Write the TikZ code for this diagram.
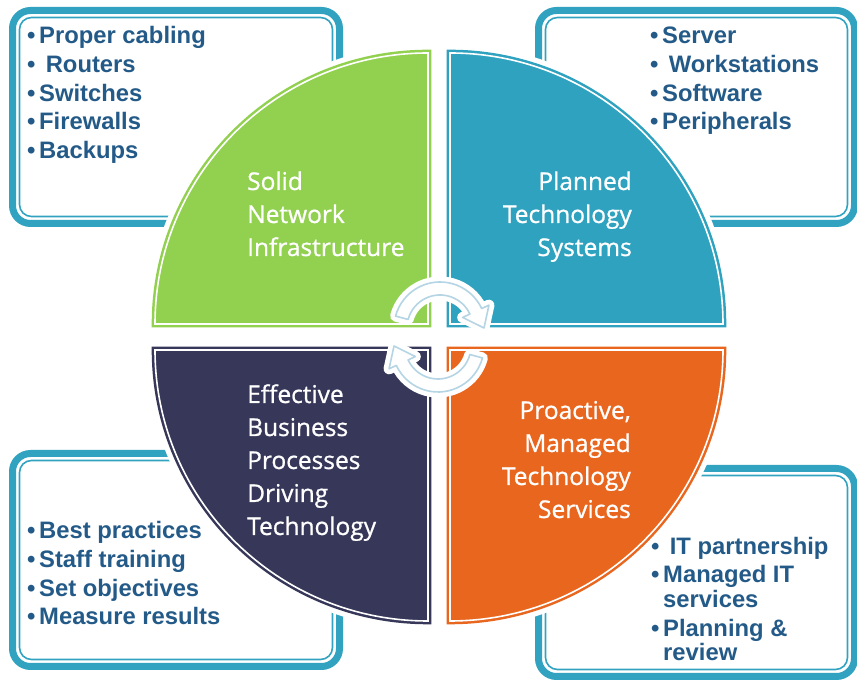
\documentclass[tikz,border=0pt]{standalone}
\usepackage{fontspec}
\setmainfont{Liberation Sans}
\newfontfamily\quadfont[FakeBold=0.9]{Open Sans}

\definecolor{netgreen}{HTML}{92D050}
\definecolor{sysblue}{HTML}{2EA2BF}
\definecolor{biznavy}{HTML}{363759}
\definecolor{svcorange}{HTML}{E9661F}
\definecolor{frameteal}{HTML}{31A3C1}
\definecolor{listblue}{HTML}{235A88}
\definecolor{cyclelight}{HTML}{B5D5E5}

\newcommand{\itm}{\makebox[12pt][l]{•}}

\begin{document}
\begin{tikzpicture}[x=1pt,y=1pt]
  \tikzset{
    frameouter/.style={draw=frameteal, line width=7pt, rounded corners=18pt},
    frameinner/.style={draw=frameteal, line width=1.6pt, rounded corners=12pt},
    listitem/.style={inner sep=0pt, anchor=base west, text=listblue,
                     font=\fontsize{23.8}{28}\selectfont\bfseries},
    quadhalo/.style={draw=white, line width=17pt},
    quadrant/.style={fill=#1, draw=#1, line width=2.5pt, double=white, double distance=1.6pt},
    quadlabel/.style={inner sep=0pt, text=white, font=\quadfont\fontsize{24.5}{33}\selectfont},
    cyclearrow/.style={fill=white, draw=cyclelight, line width=1.6pt, line join=round,
                       preaction={draw=white, line width=11pt, line join=round}}
  }
  \useasboundingbox (0,0) rectangle (857,682);

  % list frames
  \foreach \xa/\ya/\xb/\yb in {9/675/343/455, 535/675/858/455, 9/232/343/12, 535/217/858/2} {
    \draw[frameouter] (\xa+3.5,\ya-3.5) rectangle (\xb-3.5,\yb+3.5);
    \draw[frameinner] (\xa+10.5,\ya-10.5) rectangle (\xb-10.5,\yb+10.5);
  }

  % list items
  \foreach \txt [count=\i from 0] in {Proper cabling, \ Routers, Switches, Firewalls, Backups}
    \node[listitem] (net-\i) at (27,638-28.6*\i) {\itm\txt};
  \foreach \txt [count=\i from 0] in {Server, \ Workstations, Software, Peripherals}
    \node[listitem] (sys-\i) at (650,638-28.6*\i) {\itm\txt};
  \foreach \txt [count=\i from 0] in {Best practices, Staff training, Set objectives, Measure results}
    \node[listitem] (biz-\i) at (27,143-28.6*\i) {\itm\txt};
  \foreach \txt/\y [count=\i from 0] in {{\itm\ IT partnership}/127, {\itm Managed IT}/99,
      {\hspace*{12pt}services}/74, {\itm Planning \&}/45, {\hspace*{12pt}review}/21}
    \node[listitem] (svc-\i) at (651,\y) {\txt};

  % quadrants
  \foreach \cx/\cy/\sa/\ea/\col in {428/358/180/90/netgreen, 450/358/90/0/sysblue,
      428/332/270/180/biznavy, 450/332/360/270/svcorange} {
    \path[quadhalo] (\cx,\cy) -- ++(\sa:273 and 271)
      arc[start angle=\sa, end angle=\ea, x radius=273, y radius=271] -- cycle;
    \path[quadrant=\col] (\cx,\cy) -- ++(\sa:273 and 271)
      arc[start angle=\sa, end angle=\ea, x radius=273, y radius=271] -- cycle;
  }

  % quadrant labels
  \foreach \txt [count=\i from 0] in {Solid, Network, Infrastructure}
    \node[quadlabel, anchor=base west] (netlbl-\i) at (247,492-33*\i) {\txt};
  \foreach \txt [count=\i from 0] in {Planned, Technology, Systems}
    \node[quadlabel, anchor=base east] (syslbl-\i) at (632,492-33*\i) {\txt};
  \foreach \txt [count=\i from 0] in {Effective, Business, Processes, Driving, Technology}
    \node[quadlabel, anchor=base west] (bizlbl-\i) at (247,279-33*\i) {\txt};
  \foreach \txt [count=\i from 0] in {{Proactive,}, Managed, Technology, Services}
    \node[quadlabel, anchor=base east] (svclbl-\i) at (631,263-33*\i) {\txt};

  % cycle arrows
  \foreach \cx/\cy/\r in {440/354/0, 438/336/180} {
    \begin{scope}[shift={(\cx,\cy)}, rotate=\r]
      \draw[cyclearrow] (165:46) arc[start angle=165, end angle=25, radius=46]
        -- (25:54) -- (44,0) -- (25:25) -- (25:33)
        arc[start angle=25, end angle=165, radius=33] -- cycle;
    \end{scope}
  }
\end{tikzpicture}
\end{document}
